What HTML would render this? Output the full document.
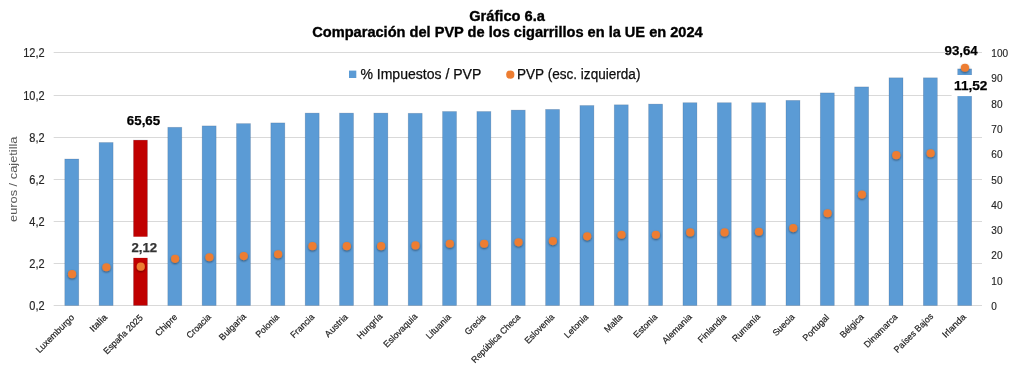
<!DOCTYPE html><html><head><meta charset="utf-8"><style>html,body{margin:0;padding:0;background:#fff;overflow:hidden}svg{display:block;will-change:transform}text{font-family:"Liberation Sans",sans-serif}</style></head><body>
<svg width="1030" height="370" viewBox="0 0 1030 370">
<defs><filter id="sh" x="-60%" y="-60%" width="220%" height="220%"><feGaussianBlur in="SourceAlpha" stdDeviation="0.8"/><feOffset dx="0.2" dy="0.9" result="b"/><feComponentTransfer><feFuncA type="linear" slope="0.5"/></feComponentTransfer><feMerge><feMergeNode/><feMergeNode in="SourceGraphic"/></feMerge></filter></defs>
<text x="469.2" y="21" font-size="14" font-weight="bold" textLength="75.79" lengthAdjust="spacingAndGlyphs" fill="#000" stroke="#000" stroke-width="0.35">Gráfico 6.a</text>
<text x="312.3" y="37" font-size="14" font-weight="bold" textLength="390.37" lengthAdjust="spacingAndGlyphs" fill="#000" stroke="#000" stroke-width="0.35">Comparación del PVP de los cigarrillos en la UE en 2024</text>
<line x1="53.7" y1="52.5" x2="982" y2="52.5" stroke="#d9d9d9" stroke-width="1"/>
<line x1="53.7" y1="95.5" x2="982" y2="95.5" stroke="#d9d9d9" stroke-width="1"/>
<line x1="53.7" y1="137.5" x2="982" y2="137.5" stroke="#d9d9d9" stroke-width="1"/>
<line x1="53.7" y1="179.5" x2="982" y2="179.5" stroke="#d9d9d9" stroke-width="1"/>
<line x1="53.7" y1="221.5" x2="982" y2="221.5" stroke="#d9d9d9" stroke-width="1"/>
<line x1="53.7" y1="263.5" x2="982" y2="263.5" stroke="#d9d9d9" stroke-width="1"/>
<line x1="53.7" y1="305.5" x2="982" y2="305.5" stroke="#d9d9d9" stroke-width="1"/>
<text x="44.63" y="57" text-anchor="end" font-size="12.7" textLength="21.43" lengthAdjust="spacingAndGlyphs" fill="#262626" stroke="#262626" stroke-width="0.2">12,2</text>
<text x="44.63" y="100" text-anchor="end" font-size="12.7" textLength="21.43" lengthAdjust="spacingAndGlyphs" fill="#262626" stroke="#262626" stroke-width="0.2">10,2</text>
<text x="44.63" y="142" text-anchor="end" font-size="12.7" textLength="15.29" lengthAdjust="spacingAndGlyphs" fill="#262626" stroke="#262626" stroke-width="0.2">8,2</text>
<text x="44.63" y="184" text-anchor="end" font-size="12.7" textLength="15.29" lengthAdjust="spacingAndGlyphs" fill="#262626" stroke="#262626" stroke-width="0.2">6,2</text>
<text x="44.63" y="226" text-anchor="end" font-size="12.7" textLength="15.29" lengthAdjust="spacingAndGlyphs" fill="#262626" stroke="#262626" stroke-width="0.2">4,2</text>
<text x="44.63" y="268" text-anchor="end" font-size="12.7" textLength="15.29" lengthAdjust="spacingAndGlyphs" fill="#262626" stroke="#262626" stroke-width="0.2">2,2</text>
<text x="44.63" y="310" text-anchor="end" font-size="12.7" textLength="15.29" lengthAdjust="spacingAndGlyphs" fill="#262626" stroke="#262626" stroke-width="0.2">0,2</text>
<text x="991.3" y="57" font-size="10" textLength="16.75" lengthAdjust="spacingAndGlyphs" fill="#262626" stroke="#262626" stroke-width="0.15">100</text>
<text x="991.3" y="82" font-size="10" textLength="11.16" lengthAdjust="spacingAndGlyphs" fill="#262626" stroke="#262626" stroke-width="0.15">90</text>
<text x="991.3" y="108" font-size="10" textLength="11.16" lengthAdjust="spacingAndGlyphs" fill="#262626" stroke="#262626" stroke-width="0.15">80</text>
<text x="991.3" y="133" font-size="10" textLength="11.16" lengthAdjust="spacingAndGlyphs" fill="#262626" stroke="#262626" stroke-width="0.15">70</text>
<text x="991.3" y="158" font-size="10" textLength="11.16" lengthAdjust="spacingAndGlyphs" fill="#262626" stroke="#262626" stroke-width="0.15">60</text>
<text x="991.3" y="184" font-size="10" textLength="11.16" lengthAdjust="spacingAndGlyphs" fill="#262626" stroke="#262626" stroke-width="0.15">50</text>
<text x="991.3" y="209" font-size="10" textLength="11.16" lengthAdjust="spacingAndGlyphs" fill="#262626" stroke="#262626" stroke-width="0.15">40</text>
<text x="991.3" y="234" font-size="10" textLength="11.16" lengthAdjust="spacingAndGlyphs" fill="#262626" stroke="#262626" stroke-width="0.15">30</text>
<text x="991.3" y="259" font-size="10" textLength="11.16" lengthAdjust="spacingAndGlyphs" fill="#262626" stroke="#262626" stroke-width="0.15">20</text>
<text x="991.3" y="285" font-size="10" textLength="11.16" lengthAdjust="spacingAndGlyphs" fill="#262626" stroke="#262626" stroke-width="0.15">10</text>
<text x="991.3" y="310" font-size="10" textLength="5.58" lengthAdjust="spacingAndGlyphs" fill="#262626" stroke="#262626" stroke-width="0.15">0</text>
<text transform="translate(16.5,222) rotate(-90)" font-size="11" textLength="85.5" lengthAdjust="spacingAndGlyphs" fill="#595959">euros / cajetilla</text>
<rect x="349" y="70.6" width="7.3" height="7.4" fill="#5b9bd5"/>
<text x="360.4" y="79" font-size="14" font-weight="normal" textLength="120.91" lengthAdjust="spacingAndGlyphs" fill="#0d0d0d" stroke="#0d0d0d" stroke-width="0.25">% Impuestos / PVP</text>
<circle cx="510.3" cy="74.7" r="4.1" fill="#ed7d31"/>
<text x="517.0" y="79" font-size="14" font-weight="normal" textLength="123.41" lengthAdjust="spacingAndGlyphs" fill="#0d0d0d" stroke="#0d0d0d" stroke-width="0.25">PVP (esc. izquierda)</text>
<rect x="64.77" y="159.00" width="14.00" height="146.50" fill="#5b9bd5" stroke="rgba(30,50,80,0.22)" stroke-width="0.7"/>
<rect x="99.11" y="142.50" width="14.00" height="163.00" fill="#5b9bd5" stroke="rgba(30,50,80,0.22)" stroke-width="0.7"/>
<rect x="133.46" y="140.10" width="14.00" height="165.40" fill="#c00000" stroke="rgba(30,50,80,0.22)" stroke-width="0.7"/>
<rect x="167.80" y="127.30" width="14.00" height="178.20" fill="#5b9bd5" stroke="rgba(30,50,80,0.22)" stroke-width="0.7"/>
<rect x="202.14" y="125.90" width="14.00" height="179.60" fill="#5b9bd5" stroke="rgba(30,50,80,0.22)" stroke-width="0.7"/>
<rect x="236.48" y="123.60" width="14.00" height="181.90" fill="#5b9bd5" stroke="rgba(30,50,80,0.22)" stroke-width="0.7"/>
<rect x="270.83" y="122.90" width="14.00" height="182.60" fill="#5b9bd5" stroke="rgba(30,50,80,0.22)" stroke-width="0.7"/>
<rect x="305.17" y="113.10" width="14.00" height="192.40" fill="#5b9bd5" stroke="rgba(30,50,80,0.22)" stroke-width="0.7"/>
<rect x="339.51" y="113.10" width="14.00" height="192.40" fill="#5b9bd5" stroke="rgba(30,50,80,0.22)" stroke-width="0.7"/>
<rect x="373.85" y="113.10" width="14.00" height="192.40" fill="#5b9bd5" stroke="rgba(30,50,80,0.22)" stroke-width="0.7"/>
<rect x="408.20" y="113.30" width="14.00" height="192.20" fill="#5b9bd5" stroke="rgba(30,50,80,0.22)" stroke-width="0.7"/>
<rect x="442.54" y="111.50" width="14.00" height="194.00" fill="#5b9bd5" stroke="rgba(30,50,80,0.22)" stroke-width="0.7"/>
<rect x="476.88" y="111.50" width="14.00" height="194.00" fill="#5b9bd5" stroke="rgba(30,50,80,0.22)" stroke-width="0.7"/>
<rect x="511.23" y="110.10" width="14.00" height="195.40" fill="#5b9bd5" stroke="rgba(30,50,80,0.22)" stroke-width="0.7"/>
<rect x="545.57" y="109.40" width="14.00" height="196.10" fill="#5b9bd5" stroke="rgba(30,50,80,0.22)" stroke-width="0.7"/>
<rect x="579.91" y="105.50" width="14.00" height="200.00" fill="#5b9bd5" stroke="rgba(30,50,80,0.22)" stroke-width="0.7"/>
<rect x="614.25" y="104.80" width="14.00" height="200.70" fill="#5b9bd5" stroke="rgba(30,50,80,0.22)" stroke-width="0.7"/>
<rect x="648.60" y="104.10" width="14.00" height="201.40" fill="#5b9bd5" stroke="rgba(30,50,80,0.22)" stroke-width="0.7"/>
<rect x="682.94" y="102.70" width="14.00" height="202.80" fill="#5b9bd5" stroke="rgba(30,50,80,0.22)" stroke-width="0.7"/>
<rect x="717.28" y="102.70" width="14.00" height="202.80" fill="#5b9bd5" stroke="rgba(30,50,80,0.22)" stroke-width="0.7"/>
<rect x="751.62" y="102.70" width="14.00" height="202.80" fill="#5b9bd5" stroke="rgba(30,50,80,0.22)" stroke-width="0.7"/>
<rect x="785.97" y="100.40" width="14.00" height="205.10" fill="#5b9bd5" stroke="rgba(30,50,80,0.22)" stroke-width="0.7"/>
<rect x="820.31" y="92.90" width="14.00" height="212.60" fill="#5b9bd5" stroke="rgba(30,50,80,0.22)" stroke-width="0.7"/>
<rect x="854.65" y="86.90" width="14.00" height="218.60" fill="#5b9bd5" stroke="rgba(30,50,80,0.22)" stroke-width="0.7"/>
<rect x="888.99" y="77.80" width="14.00" height="227.70" fill="#5b9bd5" stroke="rgba(30,50,80,0.22)" stroke-width="0.7"/>
<rect x="923.34" y="77.80" width="14.00" height="227.70" fill="#5b9bd5" stroke="rgba(30,50,80,0.22)" stroke-width="0.7"/>
<rect x="957.68" y="68.90" width="14.00" height="236.60" fill="#5b9bd5" stroke="rgba(30,50,80,0.22)" stroke-width="0.7"/>
<rect x="125" y="236.7" width="38.6" height="21.2" fill="#fff"/>
<rect x="951.6" y="75" width="38.5" height="21.1" fill="#fff"/>
<rect x="945" y="47" width="33" height="8" fill="#fff"/>
<circle cx="72.07" cy="274.15" r="4.1" fill="#ed7d31" filter="url(#sh)"/>
<circle cx="106.41" cy="267.25" r="4.1" fill="#ed7d31" filter="url(#sh)"/>
<circle cx="140.76" cy="266.65" r="4.1" fill="#ed7d31" filter="url(#sh)"/>
<circle cx="175.10" cy="258.85" r="4.1" fill="#ed7d31" filter="url(#sh)"/>
<circle cx="209.44" cy="257.25" r="4.1" fill="#ed7d31" filter="url(#sh)"/>
<circle cx="243.78" cy="256.05" r="4.1" fill="#ed7d31" filter="url(#sh)"/>
<circle cx="278.13" cy="254.25" r="4.1" fill="#ed7d31" filter="url(#sh)"/>
<circle cx="312.47" cy="246.15" r="4.1" fill="#ed7d31" filter="url(#sh)"/>
<circle cx="346.81" cy="246.15" r="4.1" fill="#ed7d31" filter="url(#sh)"/>
<circle cx="381.15" cy="246.15" r="4.1" fill="#ed7d31" filter="url(#sh)"/>
<circle cx="415.50" cy="245.45" r="4.1" fill="#ed7d31" filter="url(#sh)"/>
<circle cx="449.84" cy="243.75" r="4.1" fill="#ed7d31" filter="url(#sh)"/>
<circle cx="484.18" cy="243.75" r="4.1" fill="#ed7d31" filter="url(#sh)"/>
<circle cx="518.53" cy="242.35" r="4.1" fill="#ed7d31" filter="url(#sh)"/>
<circle cx="552.87" cy="241.05" r="4.1" fill="#ed7d31" filter="url(#sh)"/>
<circle cx="587.21" cy="236.35" r="4.1" fill="#ed7d31" filter="url(#sh)"/>
<circle cx="621.55" cy="234.75" r="4.1" fill="#ed7d31" filter="url(#sh)"/>
<circle cx="655.90" cy="234.75" r="4.1" fill="#ed7d31" filter="url(#sh)"/>
<circle cx="690.24" cy="232.45" r="4.1" fill="#ed7d31" filter="url(#sh)"/>
<circle cx="724.58" cy="232.45" r="4.1" fill="#ed7d31" filter="url(#sh)"/>
<circle cx="758.92" cy="231.75" r="4.1" fill="#ed7d31" filter="url(#sh)"/>
<circle cx="793.27" cy="228.05" r="4.1" fill="#ed7d31" filter="url(#sh)"/>
<circle cx="827.61" cy="213.25" r="4.1" fill="#ed7d31" filter="url(#sh)"/>
<circle cx="861.95" cy="194.55" r="4.1" fill="#ed7d31" filter="url(#sh)"/>
<circle cx="896.29" cy="155.15" r="4.1" fill="#ed7d31" filter="url(#sh)"/>
<circle cx="930.64" cy="153.25" r="4.1" fill="#ed7d31" filter="url(#sh)"/>
<circle cx="964.98" cy="67.75" r="4.1" fill="#ed7d31" filter="url(#sh)"/>
<text x="126.8" y="125" font-size="13" font-weight="bold" textLength="33.39" lengthAdjust="spacingAndGlyphs" fill="#000" stroke="#000" stroke-width="0.25">65,65</text>
<text x="131.4" y="252" font-size="13" font-weight="bold" textLength="25.75" lengthAdjust="spacingAndGlyphs" fill="#333" stroke="#333" stroke-width="0.25">2,12</text>
<text x="944.5" y="55" font-size="13" font-weight="bold" textLength="33.28" lengthAdjust="spacingAndGlyphs" fill="#000" stroke="#000" stroke-width="0.25">93,64</text>
<text x="954.05" y="90" font-size="13" font-weight="bold" textLength="33.42" lengthAdjust="spacingAndGlyphs" fill="#000" stroke="#000" stroke-width="0.25">11,52</text>
<text transform="translate(74.9,318.05) rotate(-45)" text-anchor="end" font-size="9" textLength="50.19" lengthAdjust="spacingAndGlyphs" fill="#1a1a1a" stroke="#1a1a1a" stroke-width="0.2">Luxemburgo</text>
<text transform="translate(107.7,317.95) rotate(-45)" text-anchor="end" font-size="9" textLength="20.43" lengthAdjust="spacingAndGlyphs" fill="#1a1a1a" stroke="#1a1a1a" stroke-width="0.2">Italia</text>
<text transform="translate(143.5,318.25) rotate(-45)" text-anchor="end" font-size="9" textLength="51.63" lengthAdjust="spacingAndGlyphs" fill="#1a1a1a" stroke="#1a1a1a" stroke-width="0.2">España 2025</text>
<text transform="translate(178.0,317.55) rotate(-45)" text-anchor="end" font-size="9" textLength="27.29" lengthAdjust="spacingAndGlyphs" fill="#1a1a1a" stroke="#1a1a1a" stroke-width="0.2">Chipre</text>
<text transform="translate(211.6,317.55) rotate(-45)" text-anchor="end" font-size="9" textLength="30.49" lengthAdjust="spacingAndGlyphs" fill="#1a1a1a" stroke="#1a1a1a" stroke-width="0.2">Croacia</text>
<text transform="translate(246.5,317.05) rotate(-45)" text-anchor="end" font-size="9" textLength="33.77" lengthAdjust="spacingAndGlyphs" fill="#1a1a1a" stroke="#1a1a1a" stroke-width="0.2">Bulgaria</text>
<text transform="translate(279.7,317.55) rotate(-45)" text-anchor="end" font-size="9" textLength="28.97" lengthAdjust="spacingAndGlyphs" fill="#1a1a1a" stroke="#1a1a1a" stroke-width="0.2">Polonia</text>
<text transform="translate(314.9,317.55) rotate(-45)" text-anchor="end" font-size="9" textLength="29.59" lengthAdjust="spacingAndGlyphs" fill="#1a1a1a" stroke="#1a1a1a" stroke-width="0.2">Francia</text>
<text transform="translate(348.4,317.55) rotate(-45)" text-anchor="end" font-size="9" textLength="28.4" lengthAdjust="spacingAndGlyphs" fill="#1a1a1a" stroke="#1a1a1a" stroke-width="0.2">Austria</text>
<text transform="translate(383.0,317.05) rotate(-45)" text-anchor="end" font-size="9" textLength="31.96" lengthAdjust="spacingAndGlyphs" fill="#1a1a1a" stroke="#1a1a1a" stroke-width="0.2">Hungría</text>
<text transform="translate(418.0,317.05) rotate(-45)" text-anchor="end" font-size="9" textLength="43.68" lengthAdjust="spacingAndGlyphs" fill="#1a1a1a" stroke="#1a1a1a" stroke-width="0.2">Eslovaquia</text>
<text transform="translate(451.5,317.55) rotate(-45)" text-anchor="end" font-size="9" textLength="31.04" lengthAdjust="spacingAndGlyphs" fill="#1a1a1a" stroke="#1a1a1a" stroke-width="0.2">Lituania</text>
<text transform="translate(486.1,317.55) rotate(-45)" text-anchor="end" font-size="9" textLength="25.42" lengthAdjust="spacingAndGlyphs" fill="#1a1a1a" stroke="#1a1a1a" stroke-width="0.2">Grecia</text>
<text transform="translate(520.9,317.55) rotate(-45)" text-anchor="end" font-size="9" textLength="64.87" lengthAdjust="spacingAndGlyphs" fill="#1a1a1a" stroke="#1a1a1a" stroke-width="0.2">República Checa</text>
<text transform="translate(554.9,317.55) rotate(-45)" text-anchor="end" font-size="9" textLength="37.83" lengthAdjust="spacingAndGlyphs" fill="#1a1a1a" stroke="#1a1a1a" stroke-width="0.2">Eslovenia</text>
<text transform="translate(588.9,317.55) rotate(-45)" text-anchor="end" font-size="9" textLength="30.03" lengthAdjust="spacingAndGlyphs" fill="#1a1a1a" stroke="#1a1a1a" stroke-width="0.2">Letonia</text>
<text transform="translate(623.0,317.55) rotate(-45)" text-anchor="end" font-size="9" textLength="21.7" lengthAdjust="spacingAndGlyphs" fill="#1a1a1a" stroke="#1a1a1a" stroke-width="0.2">Malta</text>
<text transform="translate(657.9,317.55) rotate(-45)" text-anchor="end" font-size="9" textLength="29.64" lengthAdjust="spacingAndGlyphs" fill="#1a1a1a" stroke="#1a1a1a" stroke-width="0.2">Estonia</text>
<text transform="translate(692.4,317.55) rotate(-45)" text-anchor="end" font-size="9" textLength="37.78" lengthAdjust="spacingAndGlyphs" fill="#1a1a1a" stroke="#1a1a1a" stroke-width="0.2">Alemania</text>
<text transform="translate(727.0,317.55) rotate(-45)" text-anchor="end" font-size="9" textLength="36.18" lengthAdjust="spacingAndGlyphs" fill="#1a1a1a" stroke="#1a1a1a" stroke-width="0.2">Finlandia</text>
<text transform="translate(760.8,317.05) rotate(-45)" text-anchor="end" font-size="9" textLength="35.47" lengthAdjust="spacingAndGlyphs" fill="#1a1a1a" stroke="#1a1a1a" stroke-width="0.2">Rumanía</text>
<text transform="translate(795.2,317.55) rotate(-45)" text-anchor="end" font-size="9" textLength="26.97" lengthAdjust="spacingAndGlyphs" fill="#1a1a1a" stroke="#1a1a1a" stroke-width="0.2">Suecia</text>
<text transform="translate(829.7,318.2) rotate(-45)" text-anchor="end" font-size="9" textLength="33.11" lengthAdjust="spacingAndGlyphs" fill="#1a1a1a" stroke="#1a1a1a" stroke-width="0.2">Portugal</text>
<text transform="translate(864.4,317.55) rotate(-45)" text-anchor="end" font-size="9" textLength="29.53" lengthAdjust="spacingAndGlyphs" fill="#1a1a1a" stroke="#1a1a1a" stroke-width="0.2">Bélgica</text>
<text transform="translate(898.1,317.55) rotate(-45)" text-anchor="end" font-size="9" textLength="43.27" lengthAdjust="spacingAndGlyphs" fill="#1a1a1a" stroke="#1a1a1a" stroke-width="0.2">Dinamarca</text>
<text transform="translate(933.75,317.0) rotate(-45)" text-anchor="end" font-size="9" textLength="51.12" lengthAdjust="spacingAndGlyphs" fill="#1a1a1a" stroke="#1a1a1a" stroke-width="0.2">Países Bajos</text>
<text transform="translate(966.5,317.55) rotate(-45)" text-anchor="end" font-size="9" textLength="29.3" lengthAdjust="spacingAndGlyphs" fill="#1a1a1a" stroke="#1a1a1a" stroke-width="0.2">Irlanda</text>
</svg></body></html>
